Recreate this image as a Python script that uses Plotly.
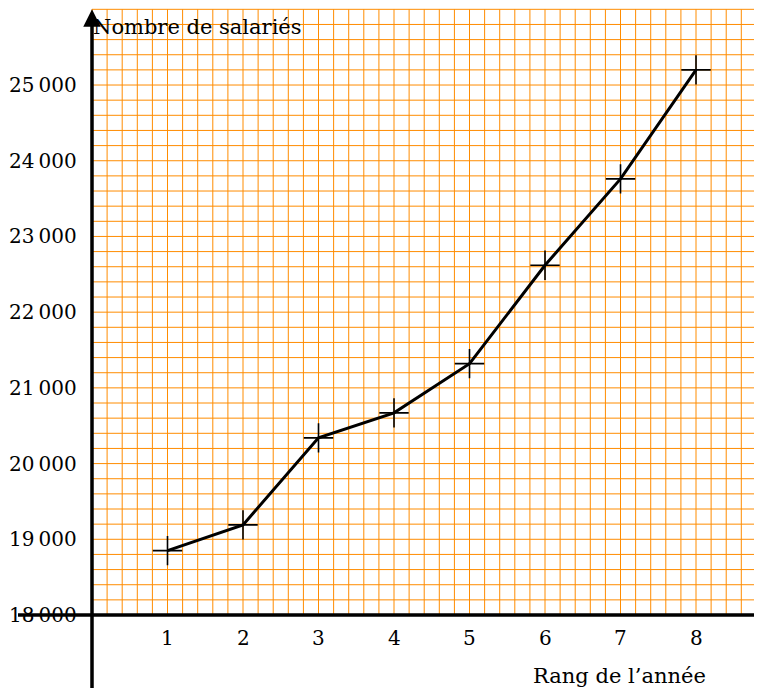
import plotly.graph_objects as go

# ---- data ----
rangs = [1, 2, 3, 4, 5, 6, 7, 8]
salaries = [18850, 19190, 20340, 20670, 21320, 22620, 23760, 25200]
x_tick_vals = [1, 2, 3, 4, 5, 6, 7, 8]
x_tick_text = ["1", "2", "3", "4", "5", "6", "7", "8"]
y_tick_vals = [18000, 19000, 20000, 21000, 22000, 23000, 24000, 25000]
y_tick_text = ["18\u2009000", "19\u2009000", "20\u2009000", "21\u2009000",
               "22\u2009000", "23\u2009000", "24\u2009000", "25\u2009000"]
y_title = "Nombre de salariés"
x_title = "Rang de l\u2019année"

# grid extents (graph paper)
grid_x = [i * 0.2 for i in range(0, 46)]          # 0 .. 9
grid_y = [18000 + i * 200 for i in range(0, 41)]  # 18000 .. 26000

# page body has an 8px margin: figure is 8px smaller, ranges compensate
W, H = 754, 680
xr = [-1.1126, 8.874]
yr = [17035.8, 26017.4]

FONT = "DejaVu Serif"
FS = 21
FS_TICK = 20
ORANGE = "#FF8C00"

fig = go.Figure()

# graph-paper grid as one trace
gx, gy = [], []
for xv in grid_x:
    gx += [xv, xv, None]
    gy += [grid_y[0], grid_y[-1], None]
for yv in grid_y:
    gx += [grid_x[0], grid_x[-1], None]
    gy += [yv, yv, None]
fig.add_trace(go.Scatter(x=gx, y=gy, mode="lines",
                         line=dict(color=ORANGE, width=1),
                         hoverinfo="skip", showlegend=False, cliponaxis=False))

# data
fig.add_trace(go.Scatter(x=rangs, y=salaries, mode="lines+markers",
                         line=dict(color="black", width=3),
                         marker=dict(symbol="cross-thin", size=21,
                                     line=dict(color="black", width=1.6)),
                         showlegend=False))

annotations = []
# axes lines with arrows
annotations.append(dict(x=0, y=26000, ax=0, ay=yr[0] - 100, xref="x", yref="y",
                        axref="x", ayref="y", showarrow=True, arrowhead=2,
                        arrowsize=1, arrowwidth=3.5, arrowcolor="black", text=""))
annotations.append(dict(x=9.0, y=18000, ax=-1.0, ay=18000, xref="x", yref="y",
                        axref="x", ayref="y", showarrow=True, arrowhead=2,
                        arrowsize=1, arrowwidth=3.5, arrowcolor="black", text=""))

for v, t in zip(x_tick_vals, x_tick_text):
    annotations.append(dict(x=v, y=18000, xref="x", yref="y", text=t,
                            showarrow=False, yshift=-23, xanchor="center",
                            yanchor="middle", borderpad=0,
                            font=dict(family=FONT, size=FS_TICK, color="black")))
for v, t in zip(y_tick_vals, y_tick_text):
    annotations.append(dict(x=0, y=v, xref="x", yref="y", text=t,
                            showarrow=False, xshift=-14, xanchor="right",
                            yanchor="middle", borderpad=0,
                            font=dict(family=FONT, size=FS_TICK, color="black")))

annotations.append(dict(x=0, y=26000, xref="x", yref="y", text=y_title,
                        showarrow=False, xanchor="left", yanchor="middle",
                        xshift=0, yshift=-18, borderpad=0,
                        font=dict(family=FONT, size=FS, color="black")))
annotations.append(dict(x=8.15, y=18000, xref="x", yref="y", text=x_title,
                        showarrow=False, xanchor="right", yanchor="middle",
                        yshift=-61, borderpad=0,
                        font=dict(family=FONT, size=FS, color="black")))

fig.update_layout(
    width=W, height=H,
    margin=dict(l=0, r=0, t=0, b=0),
    paper_bgcolor="white", plot_bgcolor="white",
    xaxis=dict(range=xr, visible=False, fixedrange=True),
    yaxis=dict(range=yr, visible=False, fixedrange=True),
    annotations=annotations,
)

fig.write_html("out.html")
